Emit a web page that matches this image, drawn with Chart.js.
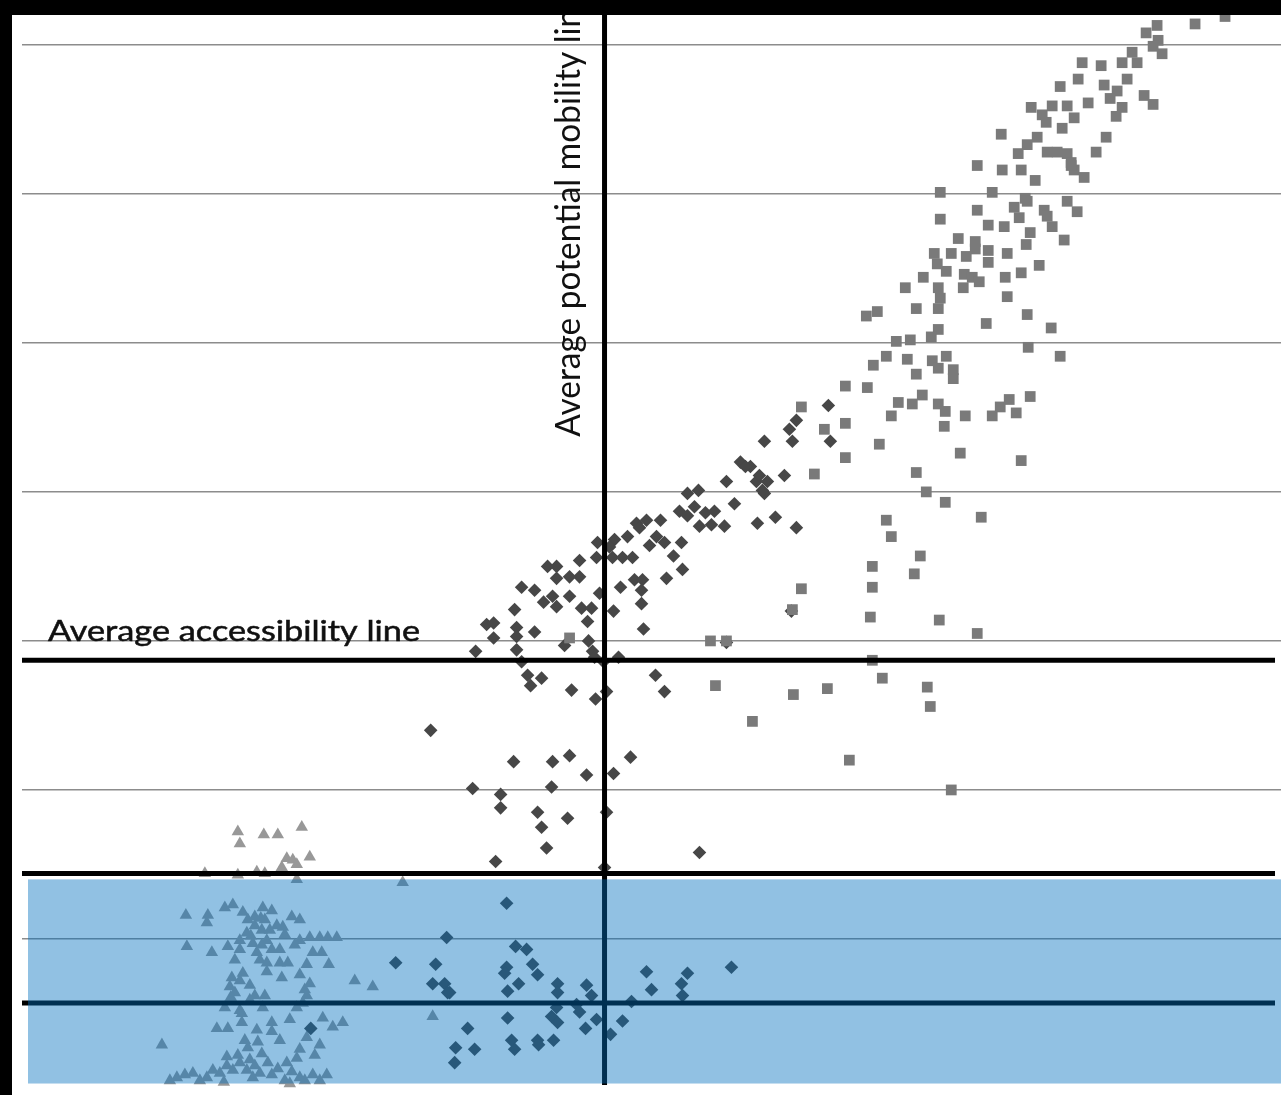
<!DOCTYPE html>
<html>
<head>
<meta charset="utf-8">
<title>Accessibility vs potential mobility</title>
<script src="https://cdn.jsdelivr.net/npm/chart.js@4.4.1/dist/chart.umd.min.js"></script>
<style>
  html, body { margin: 0; padding: 0; background: #000; overflow: hidden; }
  #wrap { position: absolute; left: 12px; top: 15px; width: 1269px; height: 1080px; background: #fff; }
</style>
</head>
<body>
<div id="wrap"><canvas id="scatter" width="1269" height="1080"></canvas></div>
<script>
// values: x = potential mobility, y = accessibility (arbitrary units)
const triangles = [
  [21.6,17.2],[21.8,16.4],[24.2,17.0],[25.6,17.0],[28.0,17.5],[26.5,15.4],[27.1,15.3],[28.8,15.5],
  [26.0,14.8],[27.5,15.0],[18.3,14.4],[21.6,14.3],[23.5,14.5],[24.3,14.4],[25.8,14.5],[27.5,14.0],
  [38.1,13.8],[16.4,11.6],[18.6,11.6],[18.5,11.1],[20.3,12.1],[21.1,12.3],[22.1,11.8],[24.1,12.1],
  [25.0,11.9],[27.0,11.5],[27.8,11.3],[25.5,10.9],[26.1,10.8],[23.3,10.9],[22.5,10.4],[21.8,9.9],
  [23.1,9.7],[24.5,9.9],[16.5,9.5],[19.0,9.1],[20.6,9.5],[21.8,9.3],[23.5,9.1],[25.0,9.3],
  [25.8,9.3],[27.8,9.9],[28.8,10.1],[29.8,10.1],[30.6,10.1],[31.5,10.1],[29.1,9.1],[30.0,9.1],
  [26.6,8.4],[25.8,8.4],[24.5,8.4],[23.8,8.6],[28.5,8.3],[30.7,8.3],[26.0,7.4],[24.5,7.8],
  [22.1,7.7],[21.0,7.4],[20.8,6.8],[21.3,6.4],[28.8,7.0],[28.5,6.2],[23.3,6.2],[24.3,6.2],
  [33.3,7.2],[35.1,6.8],[20.3,5.4],[24.1,5.4],[27.5,5.4],[28.1,5.7],[19.5,4.0],[20.6,4.0],
  [22.0,4.4],[23.5,3.9],[25.0,4.4],[25.0,3.8],[30.1,4.7],[31.1,4.1],[32.1,4.4],[28.5,3.4],
  [14.0,2.9],[20.5,2.1],[22.6,2.7],[22.8,1.9],[24.0,2.3],[26.5,1.7],[27.5,2.0],[29.3,2.2],
  [15.5,0.7],[17.1,1.0],[18.5,0.7],[19.8,1.0],[21.1,1.2],[22.5,1.2],[23.8,1.0],[25.0,0.9],
  [29.1,0.9],[30.5,0.9],[41.1,4.8],[23.1,0.7],[21.8,7.2],[22.8,6.9],[24.0,9.6],[24.8,10.6],
  [22.6,11.3],[21.3,8.6],[29.8,2.9],[21.8,1.7],[17.8,0.5],[26.3,0.5],[27.8,0.7],[22.9,10.2],
  [23.9,11.4],[22.0,5.0],[26.8,0.3],[20.2,0.4],[14.8,0.5],[16.3,0.9],[19.1,1.2],[20.5,1.5],
  [21.6,2.2],[23.3,1.5],[24.6,1.7],[25.6,1.3],[27.0,1.1],[28.3,0.5],[29.8,0.5],[22.3,3.2],
  [23.6,3.1],[27.8,2.6],[21.8,5.2],[22.8,5.9],[26.3,10.3],[27.3,9.6],[24.0,10.6],[23.3,11.5],
  [24.3,11.3],[28.3,6.6],[27.8,7.6],[20.9,6.1],[26.8,4.6],[25.8,3.2]
];

const diamonds = [
  [70.5,40.7],[73.5,40.7],[74.3,39.9],[66.6,39.9],[67.7,40.1],[71.3,39.2],[65.8,38.7],[67.3,39.0],
  [66.6,38.4],[68.4,38.6],[69.3,38.7],[67.8,37.7],[69.0,37.8],[70.3,37.7],[73.6,37.9],[75.4,38.3],
  [77.5,37.6],[61.5,37.9],[62.5,38.1],[63.9,38.1],[61.8,37.6],[63.5,37.0],[64.3,36.6],[62.8,36.4],
  [66.0,36.6],[65.2,35.7],[66.1,34.8],[64.5,34.2],[60.6,37.0],[59.3,36.8],[58.8,36.3],[57.6,36.6],
  [57.5,35.6],[59.1,35.6],[60.1,35.6],[61.1,35.6],[55.8,35.4],[55.8,34.3],[54.8,34.3],[53.5,35.0],
  [52.6,35.0],[53.5,34.2],[50.0,33.6],[51.3,33.4],[52.2,32.6],[53.1,33.0],[53.5,32.3],[54.8,33.0],
  [56.0,32.2],[57.0,32.2],[57.8,33.2],[56.6,31.3],[59.2,32.0],[59.9,33.6],[61.3,34.1],[62.1,34.1],
  [62.0,33.4],[62.0,32.5],[62.2,30.8],[49.3,32.1],[49.5,30.9],[49.5,30.3],[49.5,29.4],[46.5,31.1],
  [47.2,31.2],[47.2,30.2],[51.3,30.6],[45.4,29.3],[50.0,28.6],[54.3,29.7],[56.7,30.0],[57.1,29.3],
  [57.3,28.9],[58.2,28.6],[59.7,28.9],[50.6,27.7],[50.9,27.0],[52.0,27.5],[55.0,26.7],[57.4,26.1],
  [58.5,26.6],[63.4,27.7],[64.3,26.6],[70.5,29.9],[77.0,32.0],[40.9,24.0],[49.2,21.9],[53.1,21.9],
  [54.8,22.3],[56.5,21.0],[59.2,21.1],[60.9,22.2],[45.1,20.1],[47.9,19.7],[47.9,18.8],[53.0,20.2],
  [51.6,18.5],[52.0,17.5],[54.6,18.1],[58.5,18.5],[52.5,16.1],[47.4,15.2],[67.8,15.8],[58.3,14.8],
  [80.7,45.8],[77.5,44.8],[76.8,44.2],[77.1,43.4],[80.9,43.4],[76.3,41.1],[74.3,43.4],[71.9,42.0],
  [72.9,41.7],[73.8,41.1],[74.6,40.7],[74.1,40.1],[72.4,41.7],[48.5,8.1],[48.3,7.7],[51.1,8.3],
  [51.6,7.6],[49.7,7.0],[48.6,6.5],[42.8,6.4],[62.5,7.8],[63.0,6.6],[66.6,7.7],[66.0,7.0],
  [66.1,6.2],[71.0,8.1],[53.6,7.0],[53.6,6.4],[56.5,6.9],[57.0,6.2],[61.0,5.8],[53.5,5.4],
  [53.0,4.8],[53.6,4.4],[55.5,5.6],[55.8,5.1],[48.6,4.7],[57.5,4.6],[56.4,4.0],[60.1,4.5],
  [58.9,3.6],[44.6,4.0],[43.4,2.7],[45.3,2.6],[43.3,1.7],[49.0,3.2],[49.3,2.6],[51.6,3.2],
  [51.7,2.9],[53.2,3.2],[42.5,10.1],[37.4,8.4],[41.4,8.3],[41.1,7.0],[42.3,7.0],[42.6,6.4],
  [28.9,4.0],[48.5,12.4],[49.4,9.5],[50.5,9.3]
];

const squares = [
  [120.4,71.9],[117.4,71.4],[113.6,71.3],[112.5,70.8],[113.7,70.3],[113.2,69.9],[114.1,69.4],[111.1,69.5],
  [111.6,68.8],[110.1,68.8],[108.0,68.6],[106.1,68.8],[105.7,67.7],[108.3,67.3],[110.6,67.7],[109.6,66.9],
  [108.9,66.4],[110.1,65.8],[109.5,65.2],[112.3,66.6],[113.2,66.0],[103.9,67.2],[106.7,66.1],[101.0,65.8],
  [102.1,65.3],[103.1,65.9],[104.6,65.9],[105.3,65.1],[104.1,64.4],[102.5,64.8],[101.6,63.8],[100.6,63.3],
  [99.7,62.7],[98.0,64.0],[102.6,62.8],[103.6,62.8],[104.6,62.7],[105.0,62.1],[105.3,61.6],[106.3,61.1],
  [108.5,63.8],[107.5,62.8],[98.1,61.6],[100.0,61.6],[101.4,60.9],[100.6,59.5],[99.3,59.1],[99.8,58.4],
  [102.3,58.9],[103.1,57.8],[104.6,59.5],[105.6,58.8],[100.9,57.4],[100.5,56.6],[98.3,57.8],[104.3,56.9],
  [95.6,61.9],[105.0,61.9],[91.9,60.1],[97.1,60.1],[100.4,59.7],[95.6,58.9],[96.7,57.9],[91.9,58.3],
  [102.6,58.5],[93.7,57.0],[95.4,56.8],[95.4,56.3],[94.5,55.8],[91.3,56.0],[93.0,56.0],[96.7,56.2],
  [96.7,55.4],[98.6,56.0],[91.6,55.3],[92.5,54.8],[94.3,54.6],[95.1,54.4],[95.8,54.1],[98.4,54.4],
  [100.0,54.7],[101.8,55.2],[90.2,54.4],[88.4,53.7],[91.7,53.7],[94.2,53.7],[91.9,53.0],[98.6,53.1],
  [89.5,52.3],[91.7,52.3],[85.6,52.1],[84.5,51.8],[100.6,51.9],[96.5,51.3],[103.0,51.0],[91.7,50.9],
  [91.0,50.4],[88.9,50.2],[87.5,50.1],[100.7,49.7],[103.9,49.1],[86.5,49.1],[88.6,48.9],[91.1,48.8],
  [92.5,49.1],[91.7,48.3],[93.2,48.2],[93.2,47.6],[89.5,47.9],[85.2,48.5],[82.4,47.1],[84.6,47.0],
  [87.7,46.0],[89.1,45.9],[90.1,46.5],[91.7,45.9],[92.4,45.4],[94.4,45.1],[97.1,45.1],[97.9,45.7],
  [98.8,46.2],[99.5,45.3],[100.9,46.4],[87.0,45.1],[82.4,44.6],[80.3,44.2],[78.0,45.7],[92.3,44.4],
  [85.8,43.2],[93.9,42.6],[100.0,42.1],[82.4,42.3],[79.3,41.2],[89.5,41.3],[90.5,40.0],[92.4,39.3],
  [96.0,38.3],[86.5,38.1],[87.0,37.0],[89.9,35.7],[85.1,35.0],[89.3,34.5],[85.1,33.6],[78.0,33.5],
  [77.1,32.1],[84.9,31.6],[91.8,31.4],[95.6,30.5],[68.9,30.0],[70.5,30.0],[85.1,28.7],[86.1,27.5],
  [90.6,26.9],[69.4,27.0],[80.6,26.8],[77.2,26.4],[90.9,25.6],[73.1,24.6],[82.8,22.0],[93.0,20.0],
  [54.8,30.2]
];

// reference lines and shaded band, in data units
const accessLines = [28.7, 14.4, 5.7];
const mobilityLine = 58.3;
const bandY = [0.3, 14.0];
const bandX = [0.6, 126];
const accessLabel = 'Average accessibility line';
const mobilityLabel = 'Average potential mobility line';

const toXY = arr => arr.map(p => ({ x: p[0], y: p[1] }));

const refLines = accessLines.map(v => ({
  type: 'line',
  data: [{ x: 0, y: v }, { x: 125.4, y: v }],
  borderColor: '#000',
  borderWidth: 5,
  pointRadius: 0,
  order: 0
}));
refLines.push({
  type: 'line',
  data: [{ x: mobilityLine, y: 72 }, { x: mobilityLine, y: 0.2 }],
  borderColor: '#000',
  borderWidth: 5,
  pointRadius: 0,
  order: 0
});

const overlay = {
  id: 'overlay',
  afterDatasetsDraw(chart) {
    const { ctx, scales: { x, y } } = chart;
    ctx.save();
    ctx.fillStyle = '#111';
    ctx.strokeStyle = '#111';
    ctx.lineWidth = 0.5;

    // horizontal label, sits on the 30 grid line
    ctx.font = '28px Lato';
    const w1 = ctx.measureText(accessLabel).width;
    ctx.save();
    ctx.translate(x.getPixelForValue(2.6), y.getPixelForValue(30.0));
    ctx.scale(372 / w1, 1);
    ctx.fillText(accessLabel, 0, 0);
    ctx.strokeText(accessLabel, 0, 0);
    ctx.restore();

    // vertical label next to the mobility line
    ctx.font = '34px Lato';
    const w2 = ctx.measureText('Average potential mobility lin').width;
    ctx.save();
    ctx.translate(x.getPixelForValue(55.8), y.getPixelForValue(43.7));
    ctx.rotate(-Math.PI / 2);
    ctx.scale(428 / w2, 1);
    ctx.fillText(mobilityLabel, 0, 0);
    ctx.restore();

    // translucent blue band over the low-accessibility zone
    const x0 = x.getPixelForValue(bandX[0]), x1 = x.getPixelForValue(bandX[1]);
    const y0 = y.getPixelForValue(bandY[1]), y1 = y.getPixelForValue(bandY[0]);
    ctx.fillStyle = 'rgba(0, 112, 190, 0.43)';
    ctx.fillRect(x0, y0, x1 - x0, y1 - y0);
    ctx.restore();
  }
};

new Chart(document.getElementById('scatter'), {
  type: 'scatter',
  data: {
    datasets: [
      ...refLines,
      { label: 'High', data: toXY(squares), pointStyle: 'rect', pointRadius: 7.6, backgroundColor: '#7a7a7a', borderWidth: 0, order: 1 },
      { label: 'Medium', data: toXY(diamonds), pointStyle: 'rectRot', pointRadius: 6.8, backgroundColor: '#474747', borderWidth: 0, order: 2 },
      { label: 'Low', data: toXY(triangles), pointStyle: 'triangle', pointRadius: 7.2, backgroundColor: '#989898', borderWidth: 0, order: 3 }
    ]
  },
  options: {
    responsive: false,
    animation: false,
    devicePixelRatio: 1,
    layout: { autoPadding: false, padding: { left: 10, right: 0, top: 0, bottom: 7 } },
    plugins: { legend: { display: false }, tooltip: { enabled: false } },
    scales: {
      x: { type: 'linear', min: 0, max: 126, display: false },
      y: {
        type: 'linear', min: 0, max: 72,
        ticks: { display: false, stepSize: 10, includeBounds: false },
        border: { display: false },
        grid: {
          drawTicks: false,
          lineWidth: 1.6,
          color: c => (c.tick && c.tick.value === 0) ? 'rgba(0,0,0,0)' : '#8c8c8c'
        }
      }
    }
  },
  plugins: [overlay]
});
</script>
</body>
</html>
